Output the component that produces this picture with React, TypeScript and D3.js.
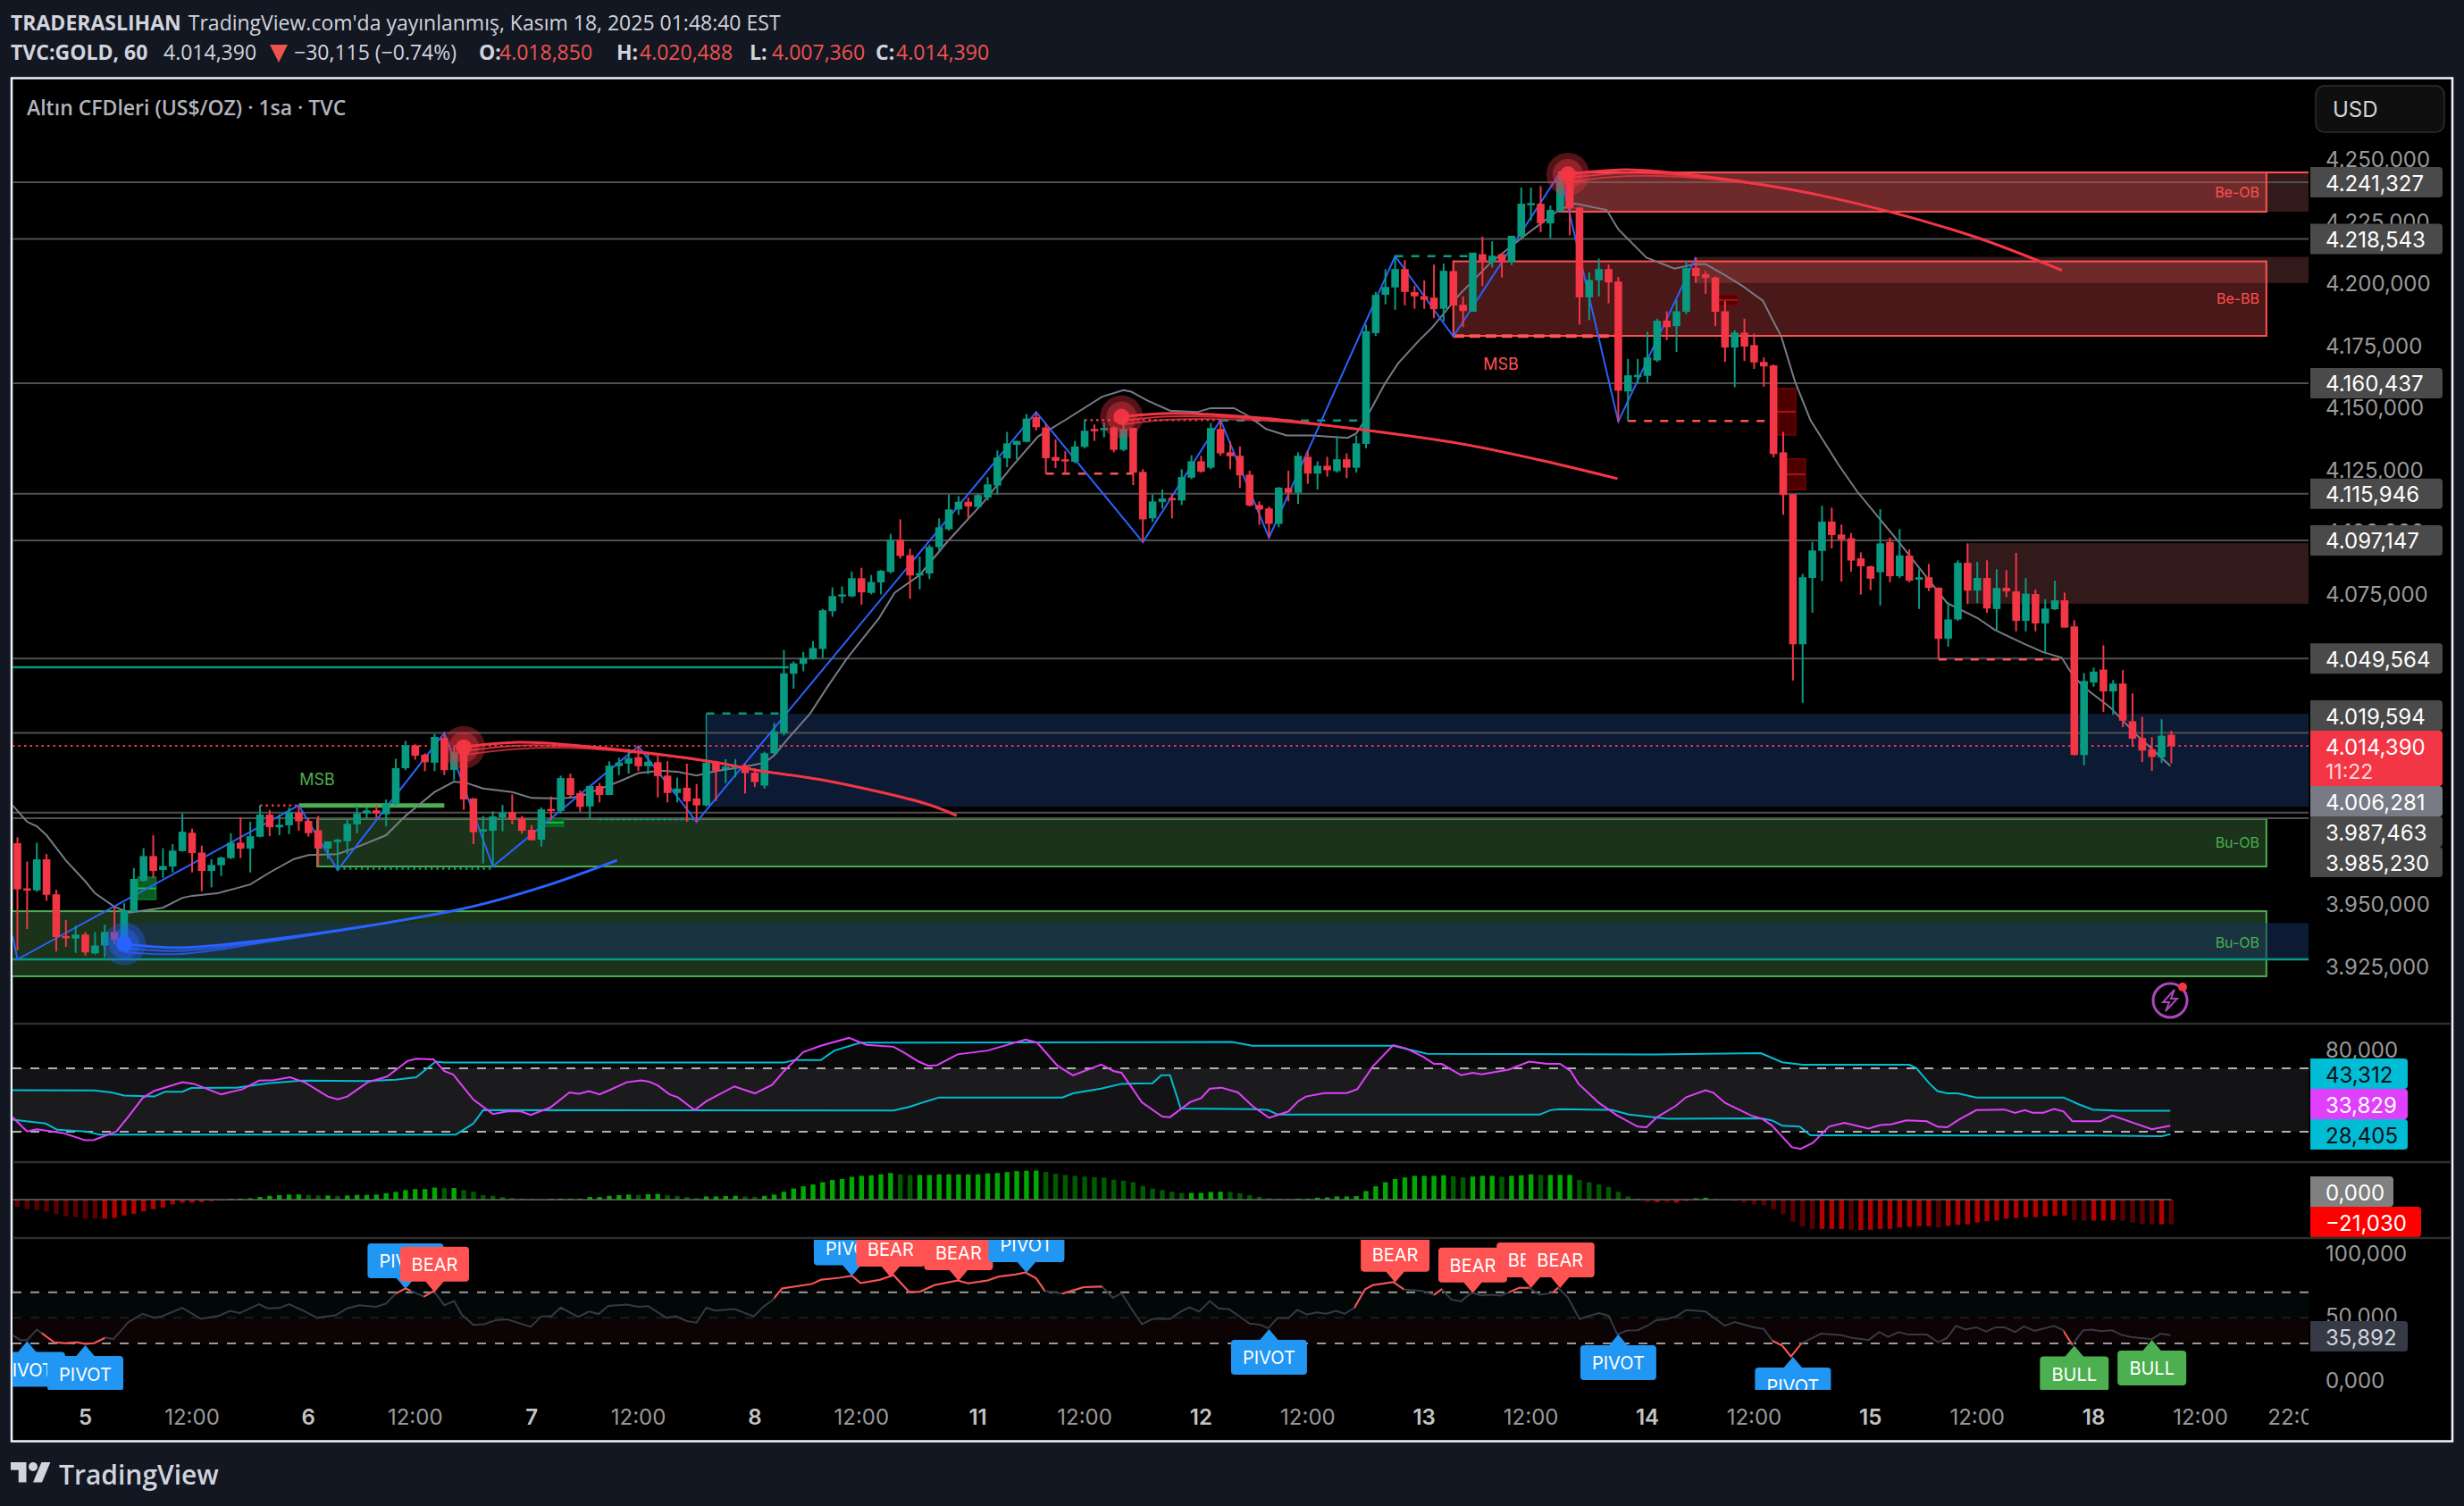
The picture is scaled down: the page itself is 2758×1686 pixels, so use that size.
import React from "react";
import * as d3 from "d3";

const W = 2758, H = 1686;

// ---- OHLC (US$/oz, hourly bars) ----
const opens = [
3975.2,3957,3956.2,3968.7,3954.6,3937.8,3936.8,3938.4,3930.8,3934,
3939.4,3936.3,3947.8,3960,3970,3964.4,3965.8,3972,3979.4,3971.4,
3964,3966.3,3969.2,3975.4,3973,3977.8,3986.7,3981.6,3982.4,3987.6,
3984.2,3980.4,3973,3976,3976,3982.8,3987.2,3988.4,3986.8,3991,
4005.4,4014.6,4010.8,4007.6,4017.6,4004.7,4015,3993.2,3980.2,3980.2,
3985.6,3987.6,3985.2,3980.6,3976.6,3989,3988.2,4001.4,3995.4,3990,
3998.2,3994.6,4006.2,4007.2,4009.8,4006.2,4007.8,4002.4,3995.4,3997.5,
3993.2,3990.4,4008,4005,4005.4,4006.6,4003.6,3998.4,4011.4,4019.6,
4043.4,4047.4,4049.4,4053.4,4068.6,4074.8,4074.6,4081.9,4076,4080.2,
4084.4,4097.4,4091.2,4083,4083.8,4094.4,4101.6,4109.6,4112.7,4110.6,
4114.4,4119.2,4130.2,4135.6,4136.8,4146.8,4142.6,4130.7,4129.8,4128.8,
4134.8,4142,4141.5,4142.6,4133.6,4142.4,4124.7,4106,4112.6,4114.2,
4113.2,4122.4,4129,4126.4,4142,4132.6,4131.2,4123.6,4111.4,4110,
4103.8,4118.2,4116.3,4130.8,4124,4127.2,4125,4129.8,4126.4,4136,
4180.6,4196,4199,4206.4,4197.1,4195.5,4194.9,4190.4,4205.6,4192,
4189.2,4212.4,4209.2,4212.4,4209.2,4219.4,4232.5,4232.7,4224.8,4229.8,
4245.2,4231.2,4195,4201.9,4206.4,4201.4,4157.1,4163.4,4163.4,4169.6,
4185.6,4183.4,4189.2,4206.8,4204.3,4203,4189.4,4174.8,4180.8,4175.8,
4169,4167.6,4132.6,4115.7,4055.3,4082,4092.9,4104.7,4099.5,4098,
4089.9,4086.7,4084.3,4096.5,4082.7,4091,4081.3,4082.3,4078.1,4057.5,
4065.3,4088.1,4076.9,4082,4069.5,4078,4076.6,4064.7,4075.5,4063.7,
4069.4,4073,4062.5,4010.7,4039.9,4045.1,4036.3,4039.5,4024.3,4017.5,
4013,4009.7,4018.85];
const closes = [
3956.6,3956.4,3968.7,3954.4,3937.4,3937.4,3938.4,3931.2,3934,3939.4,
3936.3,3948,3960.8,3970,3964,3966,3972.2,3979.8,3971.2,3964,
3966.4,3969.4,3975.4,3973,3978,3986.7,3981.6,3982.6,3987.6,3984,
3979.2,3973,3975.9,3976.6,3983,3987.2,3988.4,3987.2,3991.4,4005.4,
4014.6,4010.4,4007.8,4018,4004.6,4011.8,3992.8,3979.6,3980.8,3986,
3987.4,3984.8,3980.2,3976.4,3988.8,3988.4,4001.4,3994.6,3989.8,3998.2,
3994.6,4006.4,4007.7,4009.4,4006.2,4008,4002.2,3995.4,3997.2,3992,
3990.4,4007.6,4004.4,4006,4006.4,4003.4,3999.8,4011.4,4020.2,4043.6,
4047.6,4049.8,4053.8,4069,4074.7,4075.4,4081.9,4076.2,4080.4,4084.9,
4097.4,4090.9,4083,4083.9,4094.5,4102.4,4109.6,4112.7,4110.8,4115.4,
4119.7,4130.5,4136.2,4137.2,4146.2,4142.7,4130.2,4129.2,4129.2,4135,
4141.3,4141.5,4142.4,4133.6,4142,4124.4,4105.6,4112.8,4114,4113.6,
4122.6,4129,4124.8,4142.4,4132.2,4131,4123.3,4111.2,4109.6,4103.8,
4118.4,4116.3,4131.2,4124,4127.2,4125.4,4129.8,4126.4,4136.2,4181.4,
4196,4199.2,4206.4,4197.2,4195.4,4194,4190.2,4205.7,4191.7,4189.5,
4213,4209.2,4211.8,4209.2,4219.8,4232.7,4233,4224.8,4230.2,4242.4,
4230.8,4195,4202,4206.4,4201,4157.4,4163.6,4163.8,4170.8,4185.6,
4183,4189.4,4206.8,4203.6,4202.8,4189.2,4174.8,4180.8,4175.2,4168.8,
4167.2,4131.9,4115.4,4055.3,4082.3,4093.1,4104.7,4099.3,4097.5,4089,
4086.7,4081.7,4095.9,4082.7,4091.1,4080.9,4082.3,4078,4057.5,4065.3,
4088.1,4076.9,4082,4069.7,4078,4076.6,4064.7,4075.7,4063.7,4069.7,
4073,4062,4010.7,4040.5,4044.3,4036.3,4039.5,4024.5,4017.3,4012.5,
4009.9,4018.5,4014.39];
const highs = [
3977.6,3967.8,3975.4,3970.8,3956.4,3944.2,3942,3939.4,3939.4,3942.4,
3949.6,3951,3965.2,3973.2,3978.4,3973.2,3974.8,3987.2,3981,3974.2,
3968.8,3969.8,3979.2,3985.6,3983.8,3990.4,3988.6,3986.8,3989.6,3990,
3985.4,3986.2,3975.9,3977,3984.8,3990.4,3989.6,3990.6,3992.8,4009.2,
4016.4,4015,4011.4,4019.2,4019.6,4014,4016,3993.4,3986.2,3988,
3990.6,3994.8,3986.2,3982.4,3989.6,3994,4002.4,4003.2,3996.4,3998.4,
3999.4,4008.2,4009.6,4013.2,4014.4,4011.4,4011.4,4008.2,4001.6,4007.2,
3999,4007.8,4008.4,4009,4009,4007.2,4005.4,4012,4023.6,4053,
4048.4,4052.2,4056.6,4069.6,4078.2,4078.6,4084.6,4086.1,4083.2,4085.2,
4099.8,4105.6,4093.8,4090.6,4095.4,4106,4115.6,4115,4114.4,4115.8,
4122.6,4133.4,4140.8,4137.2,4148,4148.6,4144,4137.8,4133,4137.2,
4145.8,4143.8,4144.6,4143.2,4146.6,4142.4,4125.8,4115.6,4117.6,4115.8,
4125.8,4131.4,4131.2,4144.4,4145.6,4137,4135,4125.2,4112.8,4110.8,
4118.6,4125.2,4132.6,4133.4,4129,4130.8,4139,4132.2,4139.4,4184,
4197.2,4206.4,4211.6,4210,4199.6,4201.8,4208.2,4208.6,4209.2,4195.4,
4213,4219.4,4217.6,4212.4,4219.8,4239.2,4239.2,4239.8,4232,4245.2,
4245.2,4231.2,4205,4210.6,4208.2,4203.2,4170.2,4170.2,4181.2,4186.4,
4189.4,4193.8,4209.8,4211,4205.6,4203.4,4193.6,4181.8,4186.4,4180.4,
4170.8,4168,4140.8,4115.7,4083.7,4096.5,4111.1,4110.3,4103.5,4100.1,
4092.3,4086.9,4109.7,4098.3,4101.7,4093.5,4085.5,4087.7,4078.1,4072.3,
4089.1,4095.9,4088.5,4089.1,4085.5,4085.1,4092.1,4081.9,4077.3,4073.5,
4080.9,4076.1,4065,4043.7,4045.9,4054.9,4040.9,4044.9,4035.5,4026.1,
4017.9,4025.1,4020.49];
const lows = [
3932,3940.6,3955.6,3952,3931.6,3933.4,3931,3930,3930.4,3929.2,
3934.4,3935.6,3947.2,3959.8,3961.2,3961.2,3963.4,3971.8,3963.4,3955.8,
3957.4,3962,3968.8,3969.2,3963.4,3977.6,3978,3978.4,3978.8,3980.2,
3977.8,3965.8,3968.8,3964,3970.8,3979.2,3985,3985.2,3982,3990.4,
4004.6,4008.8,4004.2,4004.2,4002.6,4000.6,3988.6,3974.8,3967,3965.8,
3980,3982.8,3979,3976.4,3973.8,3984.4,3987.2,3993.6,3987.8,3985,
3991.6,3994.6,4002.6,4003.2,4004.2,4003,3993.6,3991.6,3991.6,3983.8,
3983.8,3990.4,3992.2,3999.4,4001.8,3995.2,3997.8,3997.2,4010.8,4018.6,
4037.4,4044.4,4049,4049.8,4066.4,4071.8,4074.2,4071.2,4075.4,4075.4,
4083.8,4089.8,4073.6,4077.4,4081.6,4093,4101,4107.4,4106.2,4110.2,
4113.2,4115.6,4126.6,4129.8,4136.6,4141.4,4124,4126.2,4124.2,4128.2,
4134.2,4137.2,4138.6,4132.6,4133,4119.4,4096.4,4104.6,4110,4106,
4111.4,4121.8,4124.4,4125.8,4131.2,4125.8,4118.2,4110.8,4103.4,4098.2,
4102.4,4112.8,4111.8,4119.9,4117.6,4122.8,4124.4,4122.2,4124.4,4134.2,
4179.4,4192.2,4190,4191.8,4190.4,4190.4,4186.6,4185.4,4190,4183,
4189.2,4199.6,4207,4203,4208,4218.8,4226,4221.2,4218.8,4229.4,
4220,4184,4185.8,4195.4,4192.6,4145,4145,4160,4160.6,4169,
4177.8,4173,4188.2,4200.8,4196.4,4183.4,4169,4158.8,4169.4,4166.2,
4159,4130.6,4107.4,4040.7,4031.7,4068,4080.7,4093.9,4080.5,4084.5,
4075.3,4077.1,4070.9,4080.3,4081.9,4080.3,4069.5,4076.7,4049.5,4054.3,
4064.7,4071.5,4071.9,4067.9,4060.9,4074.3,4060.5,4060.5,4060.5,4052.1,
4069.1,4062,4010.5,4006.5,4038.2,4028.1,4026.9,4021.9,4014.1,4007.9,
4004.3,4007.5,4007.36];

type Pt = [number, number];

const maLine: Pt[] = [[-0.5,3990.4],[1,3983.8],[2,3982],[3,3978.4],[5,3968.2],[7,3959.8],[8,3955],[10,3949.6],[11.5,3947.2],[15,3949.2],[17,3953.2],[18,3954],[20.6,3955],[24,3958.6],[26,3963.4],[28.5,3968.8],[30,3970.4],[33,3970.8],[35,3973.6],[38,3978.4],[40,3986.2],[41.5,3991],[43,3995.8],[45,4000],[46.3,3999.4],[48,3997.2],[51,3995.8],[53,3993.4],[56,3993.2],[58,3994],[60,3997],[62,4000],[64,4003.4],[66.3,4004.4],[68,4004],[70,4002.4],[72,4004.2],[75,4006],[77,4007.6],[78,4010.5],[79.4,4017.2],[81.7,4027.4],[83.6,4038.8],[85.5,4049.6],[88.8,4065.8],[90.4,4076],[93,4083.2],[95.8,4096.4],[99.6,4112.6],[102.4,4126.4],[105.2,4139],[108,4145.6],[111.8,4155],[114,4157.6],[114.8,4157],[116.5,4153.4],[118.8,4149.4],[121.6,4148.8],[123,4150.4],[125.4,4150.4],[126.8,4147.4],[128.7,4142],[130.8,4139.4],[133.4,4139.4],[137.1,4138.4],[138,4140.2],[139,4146.2],[140.9,4160],[142.3,4168.4],[144.4,4177.4],[145.8,4182.8],[148.6,4196],[151.9,4209.2],[155.6,4220.6],[158.9,4230.2],[160.5,4232.8],[163.8,4230.2],[165,4222.4],[167.9,4211],[170.8,4206.6],[172.9,4208.4],[174,4208.4],[175.8,4204.4],[177.8,4199.6],[179.9,4193.6],[181.8,4179.2],[183.2,4161.2],[184.8,4145.6],[187.7,4127.6],[189.6,4116.9],[192,4105.5],[193.9,4096.5],[196.7,4082.7],[198.9,4071.9],[202,4065.9],[203.8,4061.1],[206.7,4055.7],[208.8,4052.1],[210.7,4049.9],[211.7,4043.7],[212.9,4038.3],[215.7,4029.9],[218.5,4018.5],[221.9,4006.3]];

const zigzag: Pt[] = [[-0.5,3938],[0,3928.4],[29,3990.4],[33,3964.4],[44,4019.6],[49,3965.8],[64,4014.2],[70,3983.8],[105,4148.8],[116,4096.4],[124,4145.6],[129,4098.2],[142,4211.6],[148,4179.2],[159,4245.2],[165,4145],[173,4211.2]];

const curveRed1: Pt[] = [[45.7,4013.8],[51.7,4015.8],[58,4014.4],[71.1,4008.3],[76.6,4004.3],[82.9,4000.7],[93.7,3991],[96.8,3986.3]];
const curveRed2: Pt[] = [[113.8,4146.9],[118.8,4148.3],[128.2,4146.4],[136.3,4142.8],[148.7,4136.1],[156.9,4129.5],[164.9,4122]];
const curveRed3: Pt[] = [[159.8,4244.6],[165.9,4246.4],[173.3,4244],[185.7,4236.2],[200.8,4220.6],[210.7,4205.9]];
const curveBlue: Pt[] = [[11,3934.6],[16.6,3933.1],[25.2,3936],[36,3941.8],[46.8,3949.6],[54.9,3958.6],[61.8,3968.3]];
const fanOffsets = [-2, -1.6, -0.6, 0];

const pivotsRed: Pt[] = [[46,4013.8],[113.8,4146.9],[159.8,4244.6]];
const pivotsBlue: Pt[] = [[11,3934.6]];

const hLevels = [4241.327,4218.543,4160.437,4115.946,4097.147,4049.564,4019.594,3987.463,3985.23];
const lastPrice = 4014.39;

// zones: left bar, right bar, top price, bottom price
const zoneBeOBBase = [158.9,236.2,4245.3,4229.5];
const zoneBeOB = [158.9,231.8,4245.3,4229.5];
const zoneBeBBStrip = [172.8,236.2,4211.3,4200.8];
const zoneBeBB = [148,231.8,4209.5,4179.5];
const zoneResist = [200.9,236.2,4096,4071.6];
const zoneBlue = [71,236.2,4027.3,3989.9];
const zoneBuOB1 = [30.9,231.8,3985,3965.8];
const zoneBuOB2 = [-0.6,231.8,3947.8,3921.6];
const zoneBlue2 = [11,236.2,3943,3928.4];

// level segments: from bar, to bar, price
const dottedRed = [[25,29,3990.4],[110,124,4145.6]];
const dottedGreen = [[33,49,3964.9],[60,70,3984.8]];
const dashedGreen = [[71,79,4027.4],[124,139,4145.4],[142,150,4211.6]];
const dashedRed = [[106,115,4124],[166,181,4145.2],[198,211,4049.2]];
const thickGreen = [[29,44,3990.4]];
const thickRed = [[148,165,4179.4]];
const tealLevel = [-0.6,79.5,4046];

// little blocks: from bar, to bar, top, bottom
const blocksGreen = [[12.4,14,3961.5,3952.5],[54.3,56,3985,3982]];
const blocksRed = [[175.3,177,4196,4191.9],[181.3,183,4158.3,4139.6],[182.3,184,4130,4117.5]];

// RSI-band pane
const rsiLine: Pt[] = [[-0.5,39.2],[1,30.2],[2,31.6],[4.7,29.2],[7,24.6],[7.9,24.8],[10.2,30.2],[11.4,39.2],[12.9,51.2],[14.1,55.8],[17,61.2],[18.2,60.2],[21,53.6],[23.2,56.8],[24.9,62.2],[26.4,62.6],[28.1,64.4],[29.6,61.2],[32,52.2],[33,50.4],[34,52.2],[36.1,61.2],[38.1,64.8],[40.2,74.6],[41.1,76],[42.9,75.6],[44,68.2],[44.9,66.2],[47,50.2],[49,41.2],[50.5,42.8],[51.9,42.8],[52.9,40.6],[54.9,45.2],[56.9,54.8],[57.9,54],[58.9,55.6],[60,53.6],[61,56.2],[62.8,61.2],[64.3,62.4],[65.1,61.6],[66,59.2],[67.2,53.6],[68.1,51.6],[69.8,43.6],[71,49.2],[73.9,58.6],[76,54.2],[77.8,59.6],[79,68.2],[81,80.2],[82.8,84.2],[85.7,89.2],[87.5,84.8],[90.3,83.6],[91.3,80.2],[92.9,74.2],[93.9,71.6],[94.8,72],[96.9,78.8],[100,81.2],[101.9,84.6],[103.9,88.2],[105.1,86.2],[107.2,71.6],[108.8,65.6],[111.7,72.4],[113,68.2],[113.8,67.2],[115.9,48.6],[118,39.6],[118.8,39.2],[120.9,48.8],[122,51.2],[122.9,57.2],[124.1,57.8],[125.8,54.8],[127.3,46.2],[129,38.8],[131,42.8],[132,49.2],[132.8,52.2],[134.7,54.4],[137,54.4],[138.1,56.8],[139.7,71.2],[141.8,84.6],[143.1,82.6],[144.9,77.2],[146,72.8],[146.8,72.8],[148.8,65.6],[150,67.2],[150.9,66.2],[153.7,69.2],[155.8,74.2],[157.7,72.8],[159,72.8],[160.1,68.2],[160.9,60.2],[163,48.2],[164.9,40.2],[167,33.2],[167.9,32.8],[169,39.2],[170.9,46.2],[172,51.8],[174,56.2],[174.8,54.6],[176,48.2],[178.7,40.2],[179.8,38.2],[180.8,34.2],[182.9,20.2],[183.8,19.2],[185.1,23.2],[186.7,33.2],[188.3,35.6],[190.8,32],[192,34.2],[193.1,34.6],[194.7,37.2],[196.8,36.6],[197.9,33.2],[198.9,32.8],[200,37.2],[201.9,43.6],[204.8,44],[205.9,41.8],[206.9,43.6],[207.7,42],[208.8,42],[209.9,44.4],[210.9,42.8],[211.8,36.6],[214.7,36.6],[215.9,40.2],[220,31.6],[221.9,33.8]];
const bandUpper: Pt[] = [[-0.5,56.2],[7.9,56],[9.7,54.8],[11,52.8],[14.1,52.2],[15.2,55.2],[17,55.2],[17.9,57.6],[22.6,57.8],[25.8,60.6],[29.3,62.2],[35.8,62],[39,62.8],[41.1,64.4],[43.1,74.2],[44,73.6],[79,73.6],[80.1,75.2],[82.8,75.2],[84.2,81.2],[86.9,86.2],[125.2,86.6],[127.3,84.2],[141.8,84.2],[145.3,79.2],[168.5,78.8],[179.7,79.6],[181.9,73.8],[184,72.2],[195,72.2],[195.7,70.2],[197.1,60.2],[197.9,55.6],[198.9,54.2],[200,54.2],[201.9,51.6],[210.9,51.6],[212.5,47.2],[213.9,44],[216.5,43.2],[221.9,43.3]];
const bandLower: Pt[] = [[-0.5,37.6],[2.9,35.2],[4.1,31.2],[7,30.2],[8.5,28.2],[45.2,28.2],[47,35.2],[48,43.6],[90.3,43.4],[91.9,45.6],[93.7,49.2],[95,51.6],[107.7,51.6],[108.8,54.2],[111.7,57.2],[113.8,60.2],[117,60.6],[117.9,65.6],[118.8,65.6],[119.9,44.6],[127.3,44.2],[128.9,43.6],[129.9,40.8],[156.9,40.8],[158,43.6],[159,44.2],[164.3,43.8],[166.1,40.8],[170.1,38.2],[179.7,38.4],[180.8,37.2],[181.9,33.8],[183.7,33.2],[184.8,27.8],[214.4,27.6],[221,27.2],[221.9,28.4]];

// histogram pane
const histValues = [
-5.9,-8.1,-8.9,-10.2,-12.1,-14,-14.8,-16.1,-16.2,-16.1,
-15.6,-13.5,-12.1,-10,-8.1,-6.7,-4,-2.7,-2.7,-2.2,
-1.3,-.8,.5,.8,1.1,2.2,3.2,3.8,4.3,4.4,
4,3.5,3.5,3.2,3.5,4,4,4.3,5.4,6.5,
8.1,8.9,8.9,10.2,9.7,9.8,8.1,6.7,3.8,3.2,
2.2,1.3,.8,.3,-.3,.5,.8,.8,.8,2.2,
2.2,3.2,3.8,4.3,4,4.6,4.8,3.8,3,2.2,
1.3,2.7,2.7,3,3.2,2.7,2.4,3.2,4.3,6.7,
9.4,11.3,12.9,14.8,16.7,17.5,19.4,20.2,20.7,21.5,
22.6,21.5,21,21,21,21.5,21.5,21.5,21.5,21.5,
22.3,22.6,23.4,24.2,24.5,24.7,23.4,22,21,20.2,
19.6,19.1,18.8,16.9,16.1,14.8,11.6,9.4,8.1,6.7,
5.6,5.7,5.7,6.5,6.7,6.5,5.4,3.8,2.4,1.1,
.8,.5,.8,.8,1.6,1.9,2.7,2.7,3,7.3,
11.3,14.8,17.5,18.8,20.2,20.2,20.2,20.7,19.9,18.8,
19.6,20.2,20.2,19.4,20.2,20.7,21.5,21,21,21,
21,16.7,14.8,12.9,10.8,6.7,2.7,.8,-2.2,-2.2,
-2.7,-2.7,-1.1,1.1,1.6,.5,-.5,-1.3,-2.7,-4,
-4.8,-8.1,-12.1,-18.8,-22.9,-25,-25,-25,-25,-25.8,
-25.8,-25.6,-25,-25,-23.7,-23.1,-22.6,-22.6,-23.7,-22.3,
-21.5,-21,-19.4,-18.3,-17.8,-16.1,-15.6,-15,-15,-14,
-13.7,-13.5,-17.5,-17.8,-17.8,-17.8,-17.5,-18,-19.4,-20.7,
-21,-21,-21.03];

// RSI pane with signals
const sigLine: Pt[] = [[-0.5,36.4],[0.3,32.7],[1,32.7],[2,40.8],[3.8,30.9],[4.9,30.2],[6.1,30.9],[7,29.7],[7.9,30.2],[9.1,34.6],[9.9,33.4],[11.4,46.3],[12.9,53.2],[14.1,50],[14.9,51.2],[17,57.9],[18.9,49.2],[20.8,51.7],[21.9,55.4],[22.9,53.7],[24.9,60.6],[25.8,57.4],[27,57.7],[28,60.6],[29.3,56.2],[30.9,50],[32.8,52],[34,57.4],[35.2,59.9],[37,58.7],[38,61.1],[39,69],[40,73],[41.9,66.6],[42.9,71],[44,59.9],[45,63.1],[45.8,52.5],[47,44.5],[48.1,45],[49.3,48.2],[50.5,48.8],[52.9,43],[54,51.2],[55,51.2],[56,58.1],[57.8,50.7],[58.9,54.9],[59.9,53],[60.9,59.4],[62.8,60.4],[64,58.7],[65,59.2],[66.9,50],[67.9,51.2],[69,47.5],[70,46.3],[71,57.9],[71.9,55.7],[73.9,56.9],[75.9,51.2],[76.9,58.7],[77.8,63.6],[78.8,73],[81.9,76.5],[82.8,79.7],[84.8,81.4],[86,82.9],[86.9,77.2],[88.9,79.7],[90.3,83.4],[91.9,70.3],[93,70.3],[94.5,75.5],[96.9,79.2],[98,77],[100,79.2],[101.1,82.2],[102.9,83.9],[103.9,85.4],[105,80.9],[105.9,71],[107.7,69],[109.9,74],[111.8,74.5],[112.9,65.6],[113.8,69.3],[114.9,56.2],[115.9,45],[117,49.2],[118.8,49.2],[119.9,54.9],[120.8,58.2],[121.8,54.9],[122.9,63.1],[123.8,57.4],[124.9,56.7],[127,45.5],[128.1,44.6],[128.9,41.8],[129.9,50],[131,49.7],[131.9,56.2],[132.9,52.5],[133.9,54.2],[134.9,53.2],[135.9,55.4],[136.8,53.2],[137.8,57.9],[138.9,72.3],[139.7,75.5],[141.8,78],[142.9,72.3],[144.8,71],[146,68],[146.8,72.3],[147.8,64.3],[148.8,62.9],[149.9,69.8],[150.8,67.6],[151.8,68],[152.9,67.3],[154.8,73.5],[155.8,73.5],[156.9,68],[158.2,69.5],[158.8,73.5],[159.8,66],[161,49.2],[163,53.7],[164,51.7],[164.9,37],[165.9,40.1],[167,40.3],[168,43.8],[168.9,48.2],[169.9,48.8],[171,51.2],[172,56.2],[174,54.9],[176,43.8],[177,46.8],[179,42.6],[180,41.3],[180.9,32],[181.9,28.2],[182.8,19.8],[183.9,30.2],[185.9,37.6],[188,36.4],[189.1,34.4],[190.8,32.7],[191.9,38.9],[192.8,35.1],[193.9,38.9],[194.9,36.9],[196.8,36.9],[198,30.9],[198.9,34.4],[199.8,43.8],[200.8,40.8],[201.9,42.6],[202.9,39.3],[203.9,42.6],[204.8,42.6],[205.9,38.9],[206.8,43.3],[207.9,39.8],[209.9,43.8],[210.8,40.6],[211.8,29],[212.9,40.1],[213.8,40.8],[214.8,39.6],[215.9,40.3],[216.8,36.9],[217.8,35.1],[220,33.4],[220.9,37.6],[221.9,36.4]];
const sigRedRanges = [[2.5,9],[39,40.5],[41.9,43],[78,105.9],[107.7,111.8],[137.8,142.9],[146,146.8],[153.7,155.8],[158.2,158.8],[180.9,183.9],[210.9,211.8]];
const sigMarkers: [string, "up" | "down", number, number][] = [
  ["PIVOT","up",1,31.7],["PIVOT","up",7,28.6],["PIVOT","down",40,72.6],["BEAR","down",43,70],
  ["PIVOT","down",86,82.7],["BEAR","down",90,81.7],["BEAR","down",97,78.9],["PIVOT","down",104,85.2],
  ["PIVOT","up",129,41.2],["BEAR","down",142,77.7],["BEAR","down",150,69.3],["BEAR","down",156,73.3],
  ["BEAR","down",159,73.3],["PIVOT","up",165,37],["PIVOT","up",183,19.5],["BULL","up",212,28.2],["BULL","up",220,32.8],
];

const dayLabels: [number, string][] = [[7,"5"],[30,"6"],[53,"7"],[76,"8"],[99,"11"],[122,"12"],[145,"13"],[168,"14"],[191,"15"],[214,"18"]];
const hourLabels: [number, string][] = [[18,"12:00"],[41,"12:00"],[64,"12:00"],[87,"12:00"],[110,"12:00"],[133,"12:00"],[156,"12:00"],[179,"12:00"],[202,"12:00"],[225,"12:00"],[235,"22:00"]];

const headerBold = "TRADERASLIHAN";
const headerLine = "TradingView.com'da yayınlanmış, Kasım 18, 2025 01:48:40 EST";
const titleText = "Altın CFDleri (US$/OZ) · 1sa · TVC";
const ohlcTokens: [number, string, string, number][] = [
  [12,"TVC:GOLD, 60","#d1d4dc",700],[183,"4.014,390","#d1d4dc",400],[329,"−30,115 (−0.74%)","#d1d4dc",400],
  [536,"O:","#d1d4dc",700],[559,"4.018,850","#ef5350",400],[690,"H:","#d1d4dc",700],[716,"4.020,488","#ef5350",400],
  [839,"L:","#d1d4dc",700],[864,"4.007,360","#ef5350",400],[980,"C:","#d1d4dc",700],[1003,"4.014,390","#ef5350",400],
];

const C_UP = "#089981", C_DN = "#f23645", C_BLUE = "#2962ff", C_LINE = "#505050";
const AXIS_FONT = "Inter, sans-serif", UI_FONT = "'Open Sans', sans-serif";
const PANE_L = 14, PANE_R = 2584;

const x = d3.scaleLinear().domain([0, 222]).range([19.5, 2430.4]);
const y = d3.scaleLinear().domain([4200, 3925]).range([319, 1083.5]);
const yBand = d3.scaleLinear().domain([70, 30]).range([1196, 1267]);
const yHist = d3.scaleLinear().domain([0, -21.03]).range([1343, 1370.7]);
const ySig = d3.scaleLinear().domain([70, 30]).range([1446.7, 1504]);

const priceLine = d3.line<Pt>().x(d => x(d[0])).y(d => y(d[1]));
const priceCurve = d3.line<Pt>().x(d => x(d[0])).y(d => y(d[1])).curve(d3.curveCatmullRom);
const bandPath = d3.line<Pt>().x(d => x(d[0])).y(d => yBand(d[1]));
const sigPath = d3.line<Pt>().x(d => x(d[0])).y(d => ySig(d[1]));

function rightRound(px: number, py: number, w: number, h: number, r = 4) {
  return `M${px},${py}H${px + w - r}Q${px + w},${py} ${px + w},${py + r}V${py + h - r}Q${px + w},${py + h} ${px + w - r},${py + h}H${px}Z`;
}

function AxisBox({ top, w = 148, h = 34, fill, text, color = "#fff" }: { top: number; w?: number; h?: number; fill: string; text: string; color?: string }) {
  return (
    <g>
      <path d={rightRound(2586, top, w, h)} fill={fill} />
      <text x={2603} y={top + h / 2 + 1} fill={color} fontFamily={AXIS_FONT} fontSize={24} dominantBaseline="central">{text}</text>
    </g>
  );
}

function Zone({ z, fill, stroke, opacity = 1 }: { z: number[]; fill: string; stroke?: string; opacity?: number }) {
  return (
    <rect x={x(z[0])} y={y(z[2])} width={x(z[1]) - x(z[0])} height={y(z[3]) - y(z[2])}
      fill={fill} fillOpacity={opacity} stroke={stroke ?? "none"} strokeWidth={2} />
  );
}

function Fan({ pts, color }: { pts: Pt[]; color: string }) {
  const extra = (k: number): Pt[] => pts.map((p, i) => [p[0], p[1] + (fanOffsets[i] ?? 0) * k]);
  return (
    <g fill="none" stroke={color}>
      <path d={priceCurve(extra(1.6)) ?? ""} strokeWidth={2} opacity={0.75} />
      <path d={priceCurve(extra(0.8)) ?? ""} strokeWidth={2} opacity={0.85} />
      <path d={priceCurve(pts) ?? ""} strokeWidth={3} />
    </g>
  );
}

function Pulse({ p, color }: { p: Pt; color: string }) {
  return (
    <g>
      <circle cx={x(p[0])} cy={y(p[1])} r={24} fill={color} opacity={0.35} />
      <circle cx={x(p[0])} cy={y(p[1])} r={17} fill={color} opacity={0.4} />
      <circle cx={x(p[0])} cy={y(p[1])} r={9} fill={color} opacity={0.95} />
    </g>
  );
}

function Marker({ m }: { m: (typeof sigMarkers)[number] }) {
  const [label, dir, bar, val] = m;
  const tx = x(bar), ty = ySig(val);
  const w = label === "PIVOT" ? 85 : 77, h = 39, tri = 12;
  const fill = label === "PIVOT" ? "#2196f3" : label === "BEAR" ? "#ff5252" : "#4caf50";
  const top = dir === "down" ? ty - tri - h : ty + tri;
  const tr = dir === "down"
    ? `M${tx},${ty}L${tx - 11},${ty - tri - 1}H${tx + 11}Z`
    : `M${tx},${ty}L${tx - 11},${ty + tri + 1}H${tx + 11}Z`;
  return (
    <g>
      <path d={tr} fill={fill} />
      <rect x={tx - w / 2} y={top} width={w} height={h} rx={4} fill={fill} />
      <text x={tx} y={top + h / 2 + 1} fill="#fff" fontFamily={AXIS_FONT} fontSize={20} textAnchor="middle" dominantBaseline="central">{label}</text>
    </g>
  );
}

export default function App() {
  const seg = (s: number[], color: string, width: number, dash: string, key: string) => (
    <line key={key} x1={x(s[0])} x2={x(s[1])} y1={y(s[2])} y2={y(s[2])} stroke={color} strokeWidth={width} strokeDasharray={dash} />
  );
  const lastY = y(lastPrice);
  const priceTicks = d3.range(3925, 4251, 25);
  const bandFill =
    (bandPath(bandUpper) ?? "") + "L" + (bandPath([...bandLower].reverse()) ?? "").slice(1) + "Z";

  return (
    <svg width={W} height={H} viewBox={`0 0 ${W} ${H}`} style={{ position: "absolute", left: 0, top: 0, display: "block" }}>
      <defs>
        <clipPath id="mainClip"><rect x={PANE_L} y={88} width={PANE_R - PANE_L} height={1058} /></clipPath>
        <clipPath id="sigClip"><rect x={PANE_L} y={1388} width={PANE_R - PANE_L} height={168} /></clipPath>
        <clipPath id="axisClip"><rect x={PANE_L} y={1556} width={PANE_R - PANE_L} height={56} /></clipPath>
        <clipPath id="sigRed">
          {sigRedRanges.map((r, i) => <rect key={i} x={x(r[0])} y={1388} width={x(r[1]) - x(r[0])} height={168} />)}
        </clipPath>
      </defs>

      <rect width={W} height={H} fill="#131722" />

      {/* header */}
      <text x={12} y={25} fill="#d1d4dc" fontFamily={UI_FONT} fontSize={23} dominantBaseline="central">
        <tspan fontWeight={700}>{headerBold}</tspan>
        <tspan dx={8}>{headerLine}</tspan>
      </text>
      {ohlcTokens.map((t, i) => (
        <text key={i} x={t[0]} y={58} fill={t[2]} fontWeight={t[3]} fontFamily={UI_FONT} fontSize={23} dominantBaseline="central">{t[1]}</text>
      ))}
      <path d="M302,50H322L312,70Z" fill="#ef5350" />

      {/* frame */}
      <rect x={13} y={87.5} width={2732} height={1526} fill="#000" stroke="#f0f3fa" strokeWidth={2.5} />

      {/* main pane */}
      <g clipPath="url(#mainClip)">
        <Zone z={zoneBeOBBase} fill="#331a1a" />
        <Zone z={zoneBeBBStrip} fill="#331a1a" />
        <Zone z={zoneResist} fill="#331a1a" />
        <Zone z={zoneBuOB1} fill="#1a331a" stroke="#4caf50" />
        <Zone z={zoneBuOB2} fill="#1a331a" stroke="#4caf50" />
        <Zone z={zoneBlue} fill="rgb(24,52,102)" opacity={0.5} />
        <Zone z={zoneBlue2} fill="rgb(24,52,102)" opacity={0.5} />
        <line x1={x(zoneBlue[0])} x2={x(zoneBlue[0])} y1={y(zoneBlue[2])} y2={y(zoneBlue[3])} stroke={C_UP} strokeWidth={1.5} />

        {hLevels.map(l => <line key={l} x1={PANE_L} x2={PANE_R} y1={y(l)} y2={y(l)} stroke={C_LINE} strokeWidth={2} />)}
        <Zone z={zoneBeOB} fill="#ff5252" stroke="#ff5252" opacity={0.29} />
        <Zone z={zoneBeBB} fill="#ff5252" stroke="#ff5252" opacity={0.29} />
        <line x1={x(zoneBeOB[1])} x2={PANE_R} y1={y(zoneBeOB[2])} y2={y(zoneBeOB[2])} stroke="#ff5252" strokeWidth={2} />
        <line x1={x(tealLevel[0])} x2={x(tealLevel[1])} y1={y(tealLevel[2])} y2={y(tealLevel[2])} stroke={C_UP} strokeWidth={2.5} />
        <line x1={PANE_L} x2={PANE_R} y1={y(zoneBlue2[3])} y2={y(zoneBlue2[3])} stroke={C_UP} strokeWidth={2.5} />

        {dottedRed.map((s, i) => seg(s, C_DN, 2.5, "2.5 4", "dr" + i))}
        {dottedGreen.map((s, i) => seg(s, C_UP, 2.5, "2.5 4", "dg" + i))}
        {dashedGreen.map((s, i) => seg(s, C_UP, 2.5, "9 9", "ag" + i))}
        {dashedRed.map((s, i) => seg(s, "#ff5252", 2.5, "9 9", "ar" + i))}
        {thickGreen.map((s, i) => seg(s, "#4caf50", 5, "none", "tg" + i))}
        {thickRed.map((s, i) => seg(s, "#ff5252", 4, "12 6", "tr" + i))}

        {blocksGreen.map((b, i) => (
          <g key={i}>
            <rect x={x(b[0])} y={y(b[2])} width={x(b[1]) - x(b[0]) + 3} height={y(b[3]) - y(b[2])} fill="#0a5c20" stroke="#0b7a2a" strokeWidth={1.5} />
            <line x1={x(b[0])} x2={x(b[1]) + 3} y1={y((b[2] + b[3]) / 2)} y2={y((b[2] + b[3]) / 2)} stroke="#14c04a" strokeWidth={2} />
          </g>
        ))}
        {blocksRed.map((b, i) => (
          <g key={i}>
            <rect x={x(b[0])} y={y(b[2])} width={x(b[1]) - x(b[0]) + 3} height={y(b[3]) - y(b[2])} fill="#4d0000" stroke="#800000" strokeWidth={1.5} />
            <line x1={x(b[0])} x2={x(b[1]) + 3} y1={y((b[2] + b[3]) / 2)} y2={y((b[2] + b[3]) / 2)} stroke="#b01018" strokeWidth={2} />
          </g>
        ))}

        {/* last price */}
        <line x1={PANE_L} x2={PANE_R} y1={lastY} y2={lastY} stroke={C_DN} strokeWidth={2} strokeDasharray="2.5 4" />

        {/* moving average */}
        <path d={priceLine(maLine) ?? ""} fill="none" stroke="#787b86" strokeWidth={2} />
        {/* zig-zag */}
        <path d={priceLine(zigzag) ?? ""} fill="none" stroke={C_BLUE} strokeWidth={2} />

        {/* candles */}
        {opens.map((o, i) => {
          const c = closes[i];
          const col = c >= o ? C_UP : C_DN;
          const top = y(Math.max(o, c));
          const h = Math.max(2.5, y(Math.min(o, c)) - top);
          return (
            <g key={i}>
              <line x1={x(i)} x2={x(i)} y1={y(highs[i])} y2={y(lows[i])} stroke={col} strokeWidth={2} />
              <rect x={x(i) - 4.3} y={top} width={8.6} height={h} fill={col} />
            </g>
          );
        })}

        {/* order-flow arcs */}
        <Fan pts={curveRed1} color={C_DN} />
        <Fan pts={curveRed2} color={C_DN} />
        <Fan pts={curveRed3} color={C_DN} />
        <Fan pts={curveBlue} color={C_BLUE} />
        {pivotsRed.map((p, i) => <Pulse key={i} p={p} color={C_DN} />)}
        {pivotsBlue.map((p, i) => <Pulse key={i} p={p} color={C_BLUE} />)}

        <text x={355} y={872} fill="#4caf50" fontFamily={AXIS_FONT} fontSize={18} textAnchor="middle" dominantBaseline="central">MSB</text>
        <text x={1680} y={407} fill="#ff5252" fontFamily={AXIS_FONT} fontSize={18} textAnchor="middle" dominantBaseline="central">MSB</text>
        <text x={2529} y={215} fill="#ff5252" fontFamily={AXIS_FONT} fontSize={16} textAnchor="end" dominantBaseline="central">Be-OB</text>
        <text x={2529} y={334} fill="#ff5252" fontFamily={AXIS_FONT} fontSize={16} textAnchor="end" dominantBaseline="central">Be-BB</text>
        <text x={2529} y={943} fill="#4caf50" fontFamily={AXIS_FONT} fontSize={16} textAnchor="end" dominantBaseline="central">Bu-OB</text>
        <text x={2529} y={1055} fill="#4caf50" fontFamily={AXIS_FONT} fontSize={16} textAnchor="end" dominantBaseline="central">Bu-OB</text>

        <text x={30} y={120} fill="#b2b5be" fontFamily={UI_FONT} fontSize={23} fontWeight={600} dominantBaseline="central">{titleText}</text>

        {/* alert icon */}
        <circle cx={2429} cy={1120} r={19} fill="none" stroke="#ab47bc" strokeWidth={3} />
        <path d="M2434,1108L2421,1122H2428L2424,1132L2437,1118H2430Z" fill="none" stroke="#ab47bc" strokeWidth={2} />
        <circle cx={2443} cy={1105} r={5} fill={C_DN} />
      </g>

      {/* price axis */}
      {priceTicks.map(t => (
        <text key={t} x={2603} y={y(t) - 1.5} fill="#9a9a9a" fontFamily={AXIS_FONT} fontSize={24} dominantBaseline="central">
          {d3.format(".3f")(t / 1000).replace(".", ".") + ",000"}
        </text>
      ))}
      <AxisBox top={y(4241.327) - 17} fill="#4a4a4a" text="4.241,327" />
      <AxisBox top={y(4218.543) - 17} fill="#4a4a4a" text="4.218,543" />
      <AxisBox top={y(4160.437) - 17} fill="#4a4a4a" text="4.160,437" />
      <AxisBox top={y(4115.946) - 17} fill="#4a4a4a" text="4.115,946" />
      <AxisBox top={y(4097.147) - 17} fill="#4a4a4a" text="4.097,147" />
      <AxisBox top={y(4049.564) - 17} fill="#4a4a4a" text="4.049,564" />
      <AxisBox top={784} fill="#4a4a4a" text="4.019,594" />
      <path d={rightRound(2586, 818, 148, 62)} fill={C_DN} />
      <text x={2603} y={836} fill="#fff" fontFamily={AXIS_FONT} fontSize={24} dominantBaseline="central">4.014,390</text>
      <text x={2603} y={864} fill="#ffd6da" fontFamily={AXIS_FONT} fontSize={23} dominantBaseline="central">11:22</text>
      <AxisBox top={880} fill="#787b86" text="4.006,281" />
      <AxisBox top={914} fill="#4a4a4a" text="3.987,463" />
      <AxisBox top={948} fill="#4a4a4a" text="3.985,230" />

      {/* currency button */}
      <rect x={2592} y={96} width={144} height={52} rx={10} fill="#0f0f0f" stroke="#2e2e2e" strokeWidth={1.5} />
      <text x={2611} y={122} fill="#d1d4dc" fontFamily={AXIS_FONT} fontSize={24} dominantBaseline="central">USD</text>

      {/* band pane */}
      <rect x={PANE_L} y={yBand(70)} width={PANE_R - PANE_L} height={yBand(30) - yBand(70)} fill="#131316" />
      <path d={bandFill} fill="#ffffff" fillOpacity={0.035} />
      <line x1={PANE_L} x2={PANE_R} y1={yBand(70)} y2={yBand(70)} stroke="#b0b0b0" strokeWidth={2} strokeDasharray="10 10" />
      <line x1={PANE_L} x2={PANE_R} y1={yBand(30)} y2={yBand(30)} stroke="#b0b0b0" strokeWidth={2} strokeDasharray="10 10" />
      <path d={bandPath(bandUpper) ?? ""} fill="none" stroke="#00bcd4" strokeWidth={2} />
      <path d={bandPath(bandLower) ?? ""} fill="none" stroke="#00bcd4" strokeWidth={2} />
      <path d={bandPath(rsiLine) ?? ""} fill="none" stroke="#e040fb" strokeWidth={2} />
      <text x={2603} y={1175} fill="#9a9a9a" fontFamily={AXIS_FONT} fontSize={24} dominantBaseline="central">80,000</text>
      <AxisBox top={1185} w={109} fill="#00bcd4" text="43,312" color="#0b0e14" />
      <AxisBox top={1219} w={109} fill="#e040fb" text="33,829" />
      <AxisBox top={1253} w={109} fill="#00bcd4" text="28,405" color="#0b0e14" />

      {/* histogram pane */}
      {histValues.map((v, i) => {
        const rising = i === 0 ? false : v >= histValues[i - 1];
        const col = v >= 0 ? (rising ? "#00a800" : "#005a00") : (rising ? "#b00000" : "#5a0000");
        const a = yHist(Math.max(v, 0)), b = yHist(Math.min(v, 0));
        return <rect key={i} x={x(i) - 2.7} y={a} width={5.4} height={Math.max(b - a, 1)} fill={col} />;
      })}
      <line x1={PANE_L} x2={x(222)} y1={yHist(0)} y2={yHist(0)} stroke="#808080" strokeOpacity={0.6} strokeWidth={2} />
      <AxisBox top={1317} w={93} fill="#808080" text="0,000" />
      <AxisBox top={1351} w={124} fill="#ff0000" text="−21,030" />

      {/* signal pane */}
      <rect x={PANE_L} y={ySig(70)} width={PANE_R - PANE_L} height={ySig(50) - ySig(70)} fill="#020807" />
      <rect x={PANE_L} y={ySig(50)} width={PANE_R - PANE_L} height={ySig(30) - ySig(50)} fill="#0b0304" />
      <line x1={PANE_L} x2={PANE_R} y1={ySig(70)} y2={ySig(70)} stroke="#9a9a9a" strokeWidth={2} strokeDasharray="10 10" />
      <line x1={PANE_L} x2={PANE_R} y1={ySig(50)} y2={ySig(50)} stroke="#1c1c1c" strokeWidth={2} strokeDasharray="10 10" />
      <line x1={PANE_L} x2={PANE_R} y1={ySig(30)} y2={ySig(30)} stroke="#9a9a9a" strokeWidth={2} strokeDasharray="10 10" />
      <path d={sigPath(sigLine) ?? ""} fill="none" stroke="#363a45" strokeWidth={2} />
      <g clipPath="url(#sigRed)">
        <path d={sigPath(sigLine) ?? ""} fill="none" stroke="#ff5252" strokeWidth={2} />
      </g>
      <g clipPath="url(#sigClip)">
        {sigMarkers.map((m, i) => <Marker key={i} m={m} />)}
      </g>
      <text x={2603} y={1403} fill="#9a9a9a" fontFamily={AXIS_FONT} fontSize={24} dominantBaseline="central">100,000</text>
      <text x={2603} y={1473} fill="#9a9a9a" fontFamily={AXIS_FONT} fontSize={24} dominantBaseline="central">50,000</text>
      <text x={2603} y={1545} fill="#9a9a9a" fontFamily={AXIS_FONT} fontSize={24} dominantBaseline="central">0,000</text>
      <AxisBox top={1479} w={109} fill="#363a45" text="35,892" color="#d1d4dc" />

      {/* pane separators */}
      {[1146, 1301, 1386].map(s => <line key={s} x1={PANE_L} x2={2744} y1={s} y2={s} stroke="#2e2e2e" strokeWidth={2.5} />)}

      {/* time axis */}
      <g clipPath="url(#axisClip)">
        {dayLabels.map(d => (
          <text key={d[1]} x={x(d[0])} y={1586} fill="#c4c4c4" fontWeight={600} fontFamily={AXIS_FONT} fontSize={24} textAnchor="middle" dominantBaseline="central">{d[1]}</text>
        ))}
        {hourLabels.map((d, i) => (
          <text key={i} x={x(d[0])} y={1586} fill="#9a9a9a" fontFamily={AXIS_FONT} fontSize={24} textAnchor="middle" dominantBaseline="central">{d[1]}</text>
        ))}
      </g>

      {/* brand */}
      <g transform="translate(12,1632) scale(1.25)" fill="#d1d4dc">
        <path d="M14 22H7V11H0V4h14v18zM28 22h-8l7.5-18h8L28 22z" />
        <circle cx={20} cy={8} r={4} />
      </g>
      <text x={66} y={1650} fill="#d1d4dc" fontFamily={UI_FONT} fontWeight={600} fontSize={30} dominantBaseline="central">TradingView</text>
    </svg>
  );
}
